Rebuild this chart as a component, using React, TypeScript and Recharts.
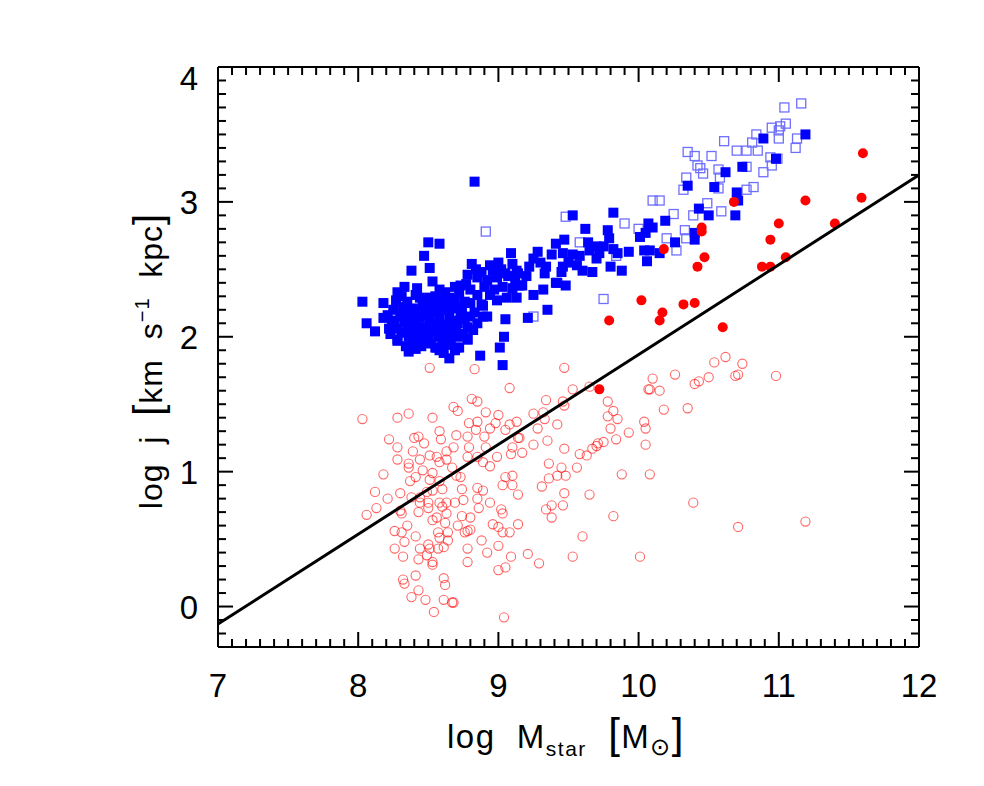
import { ScatterChart, Scatter, XAxis, YAxis } from "recharts"

// log M_star vs log j
// blue filled squares
const blueFilled: [number, number][] = [
  [8.83, 3.15],
  [8.5, 2.7], [8.58, 2.69], [8.47, 2.6], [8.38, 2.49], [8.51, 2.51], [8.53, 2.41],
  [8.03, 2.26], [8.18, 2.25], [8.06, 2.1], [8.12, 2.04], [8.22, 2.06], [8.36, 1.89],
  [8.65, 1.84], [8.87, 1.86], [9.03, 1.79], [9.05, 2.13], [9.04, 2.0], [9.01, 1.92],
  [8.28, 1.97], [8.42, 1.98], [8.55, 1.92], [8.58, 1.9], [8.69, 1.9], [8.72, 1.92], [8.78, 1.98],
  [9.09, 2.62], [8.81, 2.54], [8.94, 2.53], [9.0, 2.55], [9.1, 2.54], [9.14, 2.47], [9.05, 2.47],
  [8.99, 2.44], [8.78, 2.46], [8.85, 2.44], [8.92, 2.42], [9.17, 2.38], [9.1, 2.36], [9.03, 2.37],
  [8.94, 2.31], [9.13, 2.29], [9.06, 2.29], [8.99, 2.27], [8.88, 2.24], [8.89, 2.15], [8.85, 2.31],
  [8.8, 2.35], [8.73, 2.38], [8.69, 2.37], [8.84, 2.5], [8.88, 2.48], [8.96, 2.49], [9.02, 2.5],
  [9.07, 2.45], [8.9, 2.37], [8.97, 2.35], [9.12, 2.42], [9.13, 2.49], [9.15, 2.38], [8.92, 2.15],
  [8.89, 2.23],
  [8.58, 2.35], [8.42, 2.36], [8.33, 2.37], [8.28, 2.33], [8.44, 2.29], [8.51, 2.29], [8.65, 2.29],
  [8.76, 2.26], [8.7, 2.21], [8.62, 2.25], [8.55, 2.22], [8.48, 2.2], [8.39, 2.21], [8.32, 2.22],
  [8.25, 2.2], [8.21, 2.16], [8.3, 2.15], [8.37, 2.14], [8.44, 2.14], [8.51, 2.12], [8.58, 2.15],
  [8.65, 2.16], [8.73, 2.14], [8.8, 2.15], [8.85, 2.1], [8.78, 2.07], [8.7, 2.07], [8.63, 2.09],
  [8.56, 2.07], [8.49, 2.07], [8.42, 2.07], [8.35, 2.07], [8.28, 2.06], [8.28, 1.98], [8.36, 2.0],
  [8.43, 2.01], [8.5, 2.0], [8.57, 2.0], [8.64, 2.01], [8.71, 2.0], [8.78, 1.98], [8.7, 1.92],
  [8.63, 1.94], [8.56, 1.92], [8.49, 1.96],
  [8.46, 2.24], [8.53, 2.18], [8.6, 2.2], [8.67, 2.12], [8.4, 2.1], [8.33, 2.11], [8.47, 2.03],
  [8.54, 2.04], [8.61, 2.05], [8.68, 2.03], [8.75, 2.02], [8.26, 2.12], [8.35, 2.26], [8.41, 2.31],
  [8.62, 2.33], [8.69, 2.28], [8.74, 2.2], [8.8, 2.25], [8.83, 2.18], [8.52, 1.95], [8.45, 1.93],
  [8.38, 1.95], [8.6, 1.97], [8.66, 1.96], [8.31, 2.03], [8.24, 2.1], [8.72, 2.33], [8.77, 2.39],
  [8.55, 2.3],
  [8.27, 2.27], [8.31, 2.3], [8.36, 2.17], [8.43, 2.19], [8.5, 2.16], [8.57, 2.1], [8.64, 2.06],
  [8.71, 2.1], [8.76, 2.13], [8.47, 2.27], [8.53, 2.25], [8.59, 2.27], [8.34, 1.93], [8.41, 1.91],
  [8.61, 1.88], [8.23, 2.02], [8.18, 2.14], [8.66, 2.22], [8.4, 2.03], [8.82, 2.05],
  [9.21, 2.14], [9.35, 2.2], [9.28, 2.63], [9.41, 2.69], [9.38, 2.61], [9.25, 2.58], [9.33, 2.47],
  [9.41, 2.4], [9.32, 2.35], [9.25, 2.31], [9.2, 2.45], [9.22, 2.52], [9.3, 2.55], [9.34, 2.52],
  [9.46, 2.62], [9.46, 2.52], [9.45, 2.48], [9.42, 2.4], [9.48, 2.38], [9.53, 2.61], [9.56, 2.53],
  [9.6, 2.49], [9.67, 2.48], [9.8, 2.52], [9.88, 2.49], [9.58, 2.6], [9.5, 2.55], [9.7, 2.58],
  [9.47, 2.72], [9.53, 2.9], [9.82, 2.92], [9.62, 2.8], [9.78, 2.79], [9.79, 2.73], [9.64, 2.7],
  [9.7, 2.67], [9.75, 2.67], [9.82, 2.65], [9.85, 2.62], [9.65, 2.64], [9.72, 2.62], [9.93, 2.63],
  [10.01, 2.74], [10.05, 2.77], [10.07, 2.84], [10.1, 2.81], [10.04, 2.64], [10.08, 2.64],
  [10.06, 2.56], [10.15, 2.62], [10.19, 2.86], [10.26, 2.7], [10.4, 2.77], [10.4, 2.72],
  [10.43, 2.95], [10.5, 2.9], [10.35, 3.12], [10.54, 3.11], [10.62, 3.22], [10.7, 3.07],
  [10.69, 2.9], [10.71, 3.01], [10.74, 3.26], [10.89, 3.47], [10.98, 3.32], [11.19, 3.5],
]

// blue open squares
const blueOpen: [number, number][] = [
  [8.91, 2.78], [9.25, 2.15], [9.48, 2.89], [9.58, 2.7], [9.75, 2.28], [9.84, 2.6], [9.9, 2.84],
  [10.0, 2.8], [10.1, 3.01], [10.15, 3.01], [10.2, 2.73], [10.25, 2.91], [10.27, 2.64],
  [10.32, 3.09], [10.33, 2.79], [10.34, 2.73], [10.34, 3.18], [10.35, 3.37], [10.39, 2.9],
  [10.4, 3.34], [10.42, 3.27], [10.44, 3.25], [10.46, 3.21], [10.49, 2.99], [10.52, 3.34],
  [10.57, 3.24], [10.58, 3.18], [10.57, 3.1], [10.59, 2.93], [10.61, 3.45], [10.7, 3.38],
  [10.77, 3.38], [10.85, 3.38], [10.94, 3.33], [10.95, 3.27], [10.89, 3.22], [10.99, 3.32],
  [10.77, 3.26], [10.77, 3.09], [10.82, 3.11], [10.84, 3.5], [10.81, 3.44], [10.95, 3.55],
  [11.0, 3.53], [11.01, 3.56], [11.05, 3.58], [11.0, 3.47], [11.13, 3.47], [11.12, 3.4],
  [11.04, 3.7], [11.16, 3.73],
]

// red filled circles
const redFilled: [number, number][] = [
  [9.72, 1.61], [9.79, 2.12], [10.02, 2.27], [10.15, 2.12], [10.17, 2.18], [10.18, 2.65],
  [10.32, 2.24], [10.4, 2.25], [10.42, 2.52], [10.45, 2.78], [10.45, 2.81], [10.47, 2.59],
  [10.6, 2.07], [10.68, 3.0], [10.88, 2.52], [10.94, 2.52], [10.94, 2.72], [11.0, 2.84],
  [11.05, 2.59], [11.19, 3.01], [11.4, 2.84], [11.59, 3.03], [11.6, 3.36],
]

// red open circles
const redOpen: [number, number][] = [
  [8.51, 1.77], [8.83, 1.76], [9.08, 1.62], [8.03, 1.39], [8.28, 1.4], [8.36, 1.43], [8.53, 1.4],
  [8.68, 1.48], [8.71, 1.45], [8.81, 1.54], [8.85, 1.52], [8.91, 1.44], [9.0, 1.42], [9.25, 1.43],
  [8.58, 1.3], [8.7, 1.27], [8.79, 1.36], [8.85, 1.37], [8.84, 1.31], [8.94, 1.32], [8.98, 1.36],
  [9.05, 1.31], [9.08, 1.35], [9.13, 1.37], [9.28, 1.32],
  [8.22, 1.24], [8.28, 1.18], [8.4, 1.25], [8.43, 1.26], [8.47, 1.21], [8.59, 1.24], [8.78, 1.26],
  [8.9, 1.26], [9.14, 1.25],
  [8.39, 1.15], [8.51, 1.12], [8.63, 1.15], [8.68, 1.18], [8.79, 1.18], [8.91, 1.18], [9.1, 1.18],
  [9.25, 1.2],
  [8.28, 1.09], [8.36, 1.06], [8.44, 1.09], [8.56, 1.11], [8.63, 1.09], [8.78, 1.11], [8.85, 1.11],
  [8.89, 1.07], [8.94, 1.04], [8.99, 1.11], [9.09, 1.13], [9.17, 1.14],
  [8.36, 1.03], [8.46, 1.01], [8.53, 0.99], [8.58, 1.07], [8.67, 1.03], [8.7, 0.97],
  [8.18, 0.98], [8.41, 0.96], [8.37, 0.93], [8.51, 0.94], [8.58, 0.93], [8.73, 0.96], [9.05, 0.96],
  [9.1, 0.97], [9.03, 0.9], [9.1, 0.9], [9.14, 0.83],
  [8.12, 0.85], [8.21, 0.8], [8.3, 0.84], [8.38, 0.81], [8.44, 0.81], [8.49, 0.85], [8.53, 0.86],
  [8.6, 0.87], [8.74, 0.87], [8.85, 0.88], [8.89, 0.86],
  [8.44, 0.77], [8.5, 0.77], [8.58, 0.77], [8.63, 0.77], [8.69, 0.77], [8.75, 0.79], [8.85, 0.8],
  [8.94, 0.77],
  [8.13, 0.73], [8.06, 0.68], [8.3, 0.71], [8.31, 0.69], [8.43, 0.7], [8.5, 0.73], [8.6, 0.74],
  [8.63, 0.69], [8.74, 0.67], [8.8, 0.66], [8.86, 0.73], [9.02, 0.72], [9.03, 0.69],
  [8.53, 0.64], [8.56, 0.66], [8.62, 0.62], [8.71, 0.6], [8.78, 0.56], [8.8, 0.57], [8.96, 0.61],
  [9.0, 0.59], [9.14, 0.61],
  [8.26, 0.56], [8.31, 0.55], [8.35, 0.6], [8.41, 0.52], [8.57, 0.55], [8.64, 0.55], [8.76, 0.55],
  [9.03, 0.55], [9.08, 0.55],
  [8.33, 0.48], [8.58, 0.51], [8.64, 0.49], [8.88, 0.49],
  [8.26, 0.43], [8.32, 0.37], [8.44, 0.43], [8.5, 0.46], [8.51, 0.43], [8.57, 0.43], [8.61, 0.44],
  [8.78, 0.43], [8.92, 0.4], [9.0, 0.45], [9.09, 0.37], [9.21, 0.39],
  [8.43, 0.35], [8.49, 0.38], [8.53, 0.33], [8.53, 0.31], [8.78, 0.33], [9.0, 0.27], [9.05, 0.29],
  [8.32, 0.2], [8.33, 0.17], [8.41, 0.23], [8.61, 0.21], [8.62, 0.16], [8.43, 0.12], [8.38, 0.07],
  [8.48, 0.05], [8.61, 0.05], [8.67, 0.03], [8.68, 0.03], [8.54, -0.04], [9.04, -0.08], [9.29, 0.32],
  [9.47, 1.77], [9.53, 1.61], [9.65, 1.63], [9.34, 1.53], [9.46, 1.52], [9.47, 1.49], [9.32, 1.44],
  [9.33, 1.39], [9.42, 1.35], [9.15, 1.25], [9.35, 1.23], [9.47, 1.17], [9.58, 1.13], [9.63, 1.12],
  [9.36, 1.06], [9.45, 1.03], [9.56, 1.03], [9.42, 0.97], [9.48, 0.97], [9.36, 0.95], [9.31, 0.89],
  [9.47, 0.84], [9.65, 0.83], [9.38, 0.75], [9.34, 0.72], [9.46, 0.75], [9.38, 0.66], [9.82, 0.67],
  [9.6, 0.52], [9.53, 0.37], [10.01, 0.37],
  [9.78, 1.52], [9.82, 1.45], [9.78, 1.41], [9.85, 1.39], [9.8, 1.32], [9.84, 1.24], [9.93, 1.29],
  [9.75, 1.22], [9.71, 1.21], [9.7, 1.19], [9.67, 1.17], [9.88, 0.98],
  [10.1, 1.69], [10.07, 1.61], [10.08, 1.61], [10.15, 1.6], [10.18, 1.46], [10.26, 1.72],
  [10.35, 1.47], [10.04, 1.37], [10.05, 1.32], [10.05, 1.2], [10.08, 0.98], [10.4, 1.65],
  [10.43, 1.67], [10.5, 1.7], [10.54, 1.81], [10.62, 1.85], [10.74, 1.8], [10.69, 1.71],
  [10.71, 1.72], [10.98, 1.71], [10.39, 0.77], [10.71, 0.59], [11.19, 0.63],
]

// j ~ M^(2/3) reference line
const fitX = [7, 12]
const fitY = [-0.13, 3.2]

const xMajor = [7, 8, 9, 10, 11, 12]
const yMajor = [0, 1, 2, 3, 4]
const xTicks = Array.from({ length: 51 }, (_, i) => Math.round(70 + i) / 10)
const yTicks = Array.from({ length: 44 }, (_, i) => Math.round(-3 + i) / 10)

const toPts = (a: [number, number][]) => a.map(([x, y]) => ({ x, y }))
const fitData = fitX.map((x, i) => ({ x, y: fitY[i] }))

const FONT = "'Liberation Sans', Arial, sans-serif"
const MAJOR = 15
const MINOR = 8

const isMajor = (v: number, list: number[]) => list.some((m) => Math.abs(m - v) < 1e-6)

const BottomTick = (p: any) => {
  const v = p.payload.value
  const major = isMajor(v, xMajor)
  return (
    <g>
      <line x1={p.x} x2={p.x} y1={p.y} y2={p.y - (major ? MAJOR : MINOR)} stroke="#000" strokeWidth={2} />
      {major && (
        <text x={p.x} y={p.y + 50} textAnchor="middle" fontSize={33} fontFamily={FONT} fill="#000">
          {v}
        </text>
      )}
    </g>
  )
}

const TopTick = (p: any) => {
  const major = isMajor(p.payload.value, xMajor)
  return <line x1={p.x} x2={p.x} y1={p.y} y2={p.y + (major ? MAJOR : MINOR)} stroke="#000" strokeWidth={2} />
}

const LeftTick = (p: any) => {
  const v = p.payload.value
  const major = isMajor(v, yMajor)
  return (
    <g>
      <line x1={p.x} x2={p.x + (major ? MAJOR : MINOR)} y1={p.y} y2={p.y} stroke="#000" strokeWidth={2} />
      {major && (
        <text x={p.x - 20} y={p.y + (v === 4 ? 23 : 12)} textAnchor="end" fontSize={33} fontFamily={FONT} fill="#000">
          {v}
        </text>
      )}
    </g>
  )
}

const RightTick = (p: any) => {
  const major = isMajor(p.payload.value, yMajor)
  return <line x1={p.x} x2={p.x - (major ? MAJOR : MINOR)} y1={p.y} y2={p.y} stroke="#000" strokeWidth={2} />
}

const FilledSquare = (p: any) => <rect x={p.cx - 5} y={p.cy - 5} width={10} height={10} fill="#0000ff" />
const OpenSquare = (p: any) => (
  <rect x={p.cx - 4.5} y={p.cy - 4.5} width={9} height={9} fill="none" stroke="#6f6fff" strokeWidth={1.3} />
)
const FilledCircle = (p: any) => <circle cx={p.cx} cy={p.cy} r={5} fill="#ff0000" />
const OpenCircle = (p: any) => (
  <circle cx={p.cx} cy={p.cy} r={4.6} fill="none" stroke="#ff0000" strokeOpacity={0.6} strokeWidth={1.1} />
)
const NoDot = () => <g />

export default function App() {
  const axisLine = { stroke: "#000", strokeWidth: 2 }
  const pre = { whiteSpace: "pre" as const }
  return (
    <div style={{ position: "absolute", left: 0, top: 0, width: 984, height: 786, background: "#fff" }}>
      <ScatterChart width={984} height={786} margin={{ top: 47, right: 45, bottom: 119, left: 198 }}>
        <XAxis
          xAxisId="b"
          type="number"
          dataKey="x"
          domain={[7, 12]}
          ticks={xTicks}
          interval={0}
          height={20}
          tickSize={0}
          tickMargin={0}
          tickLine={false}
          axisLine={axisLine}
          tick={BottomTick}
          allowDataOverflow
        />
        <XAxis
          xAxisId="t"
          orientation="top"
          type="number"
          dataKey="x"
          domain={[7, 12]}
          ticks={xTicks}
          interval={0}
          height={20}
          tickSize={0}
          tickMargin={0}
          tickLine={false}
          axisLine={axisLine}
          tick={TopTick}
          allowDataOverflow
        />
        <YAxis
          yAxisId="l"
          type="number"
          dataKey="y"
          domain={[-0.3, 4]}
          ticks={yTicks}
          interval={0}
          width={20}
          tickSize={0}
          tickMargin={0}
          tickLine={false}
          axisLine={axisLine}
          tick={LeftTick}
          allowDataOverflow
        />
        <YAxis
          yAxisId="r"
          orientation="right"
          type="number"
          dataKey="y"
          domain={[-0.3, 4]}
          ticks={yTicks}
          interval={0}
          width={20}
          tickSize={0}
          tickMargin={0}
          tickLine={false}
          axisLine={axisLine}
          tick={RightTick}
          allowDataOverflow
        />
        <Scatter xAxisId="b" yAxisId="l" data={toPts(redOpen)} shape={OpenCircle} isAnimationActive={false} />
        <Scatter xAxisId="b" yAxisId="l" data={toPts(blueOpen)} shape={OpenSquare} isAnimationActive={false} />
        <Scatter xAxisId="b" yAxisId="l" data={toPts(blueFilled)} shape={FilledSquare} isAnimationActive={false} />
        <Scatter xAxisId="b" yAxisId="l" data={toPts(redFilled)} shape={FilledCircle} isAnimationActive={false} />
        <Scatter
          xAxisId="b"
          yAxisId="l"
          data={fitData}
          line={{ stroke: "#000", strokeWidth: 3 }}
          shape={NoDot}
          isAnimationActive={false}
        />
      </ScatterChart>
      <svg
        width={984}
        height={786}
        style={{ position: "absolute", left: 0, top: 0, pointerEvents: "none" }}
        fontFamily={FONT}
        fill="#000"
      >
        <text x={566} y={748} textAnchor="middle" fontSize={33} letterSpacing={1.5} style={pre}>
          log  M<tspan fontSize={21} dy={8}>star</tspan>
          <tspan dy={-8}>  </tspan>
          <tspan fontSize={42}>[</tspan>M<tspan fontSize={24} dy={7}>⊙</tspan>
          <tspan fontSize={42} dy={-7}>]</tspan>
        </text>
        <text
          transform="translate(162,361) rotate(-90)"
          textAnchor="middle"
          fontSize={32}
          letterSpacing={1}
          style={pre}
        >
          log  j  <tspan fontSize={40}>[</tspan>km  s<tspan fontSize={20} dy={-13}>−1</tspan>
          <tspan dy={13}>  kpc</tspan>
          <tspan fontSize={40}>]</tspan>
        </text>
      </svg>
    </div>
  )
}
